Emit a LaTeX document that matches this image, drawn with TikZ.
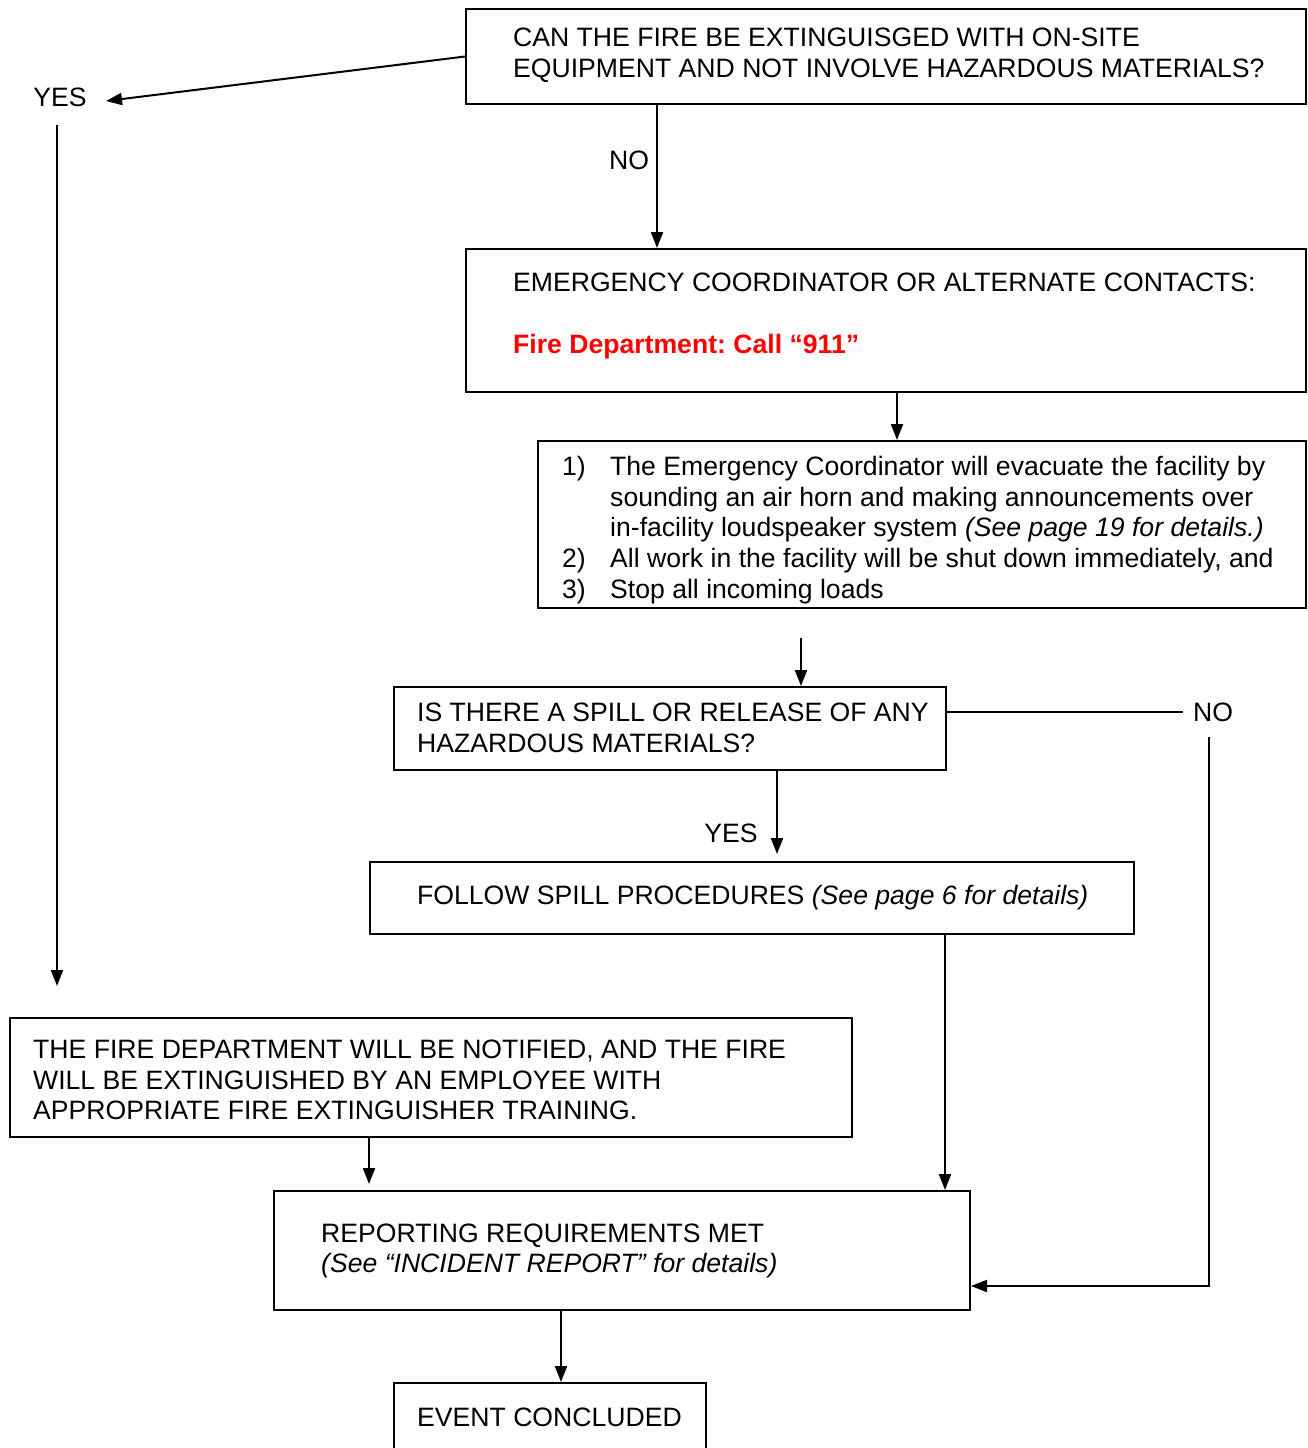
\documentclass[tikz,border=0pt]{standalone}
\usepackage{fontspec}
\setmainfont{Liberation Sans}
\usetikzlibrary{arrows.meta}
\frenchspacing
\begin{document}
\begin{tikzpicture}[x=1pt,y=-1pt,
  box/.style={draw, line width=2pt, anchor=north west, inner sep=0pt},
  txt/.style={font=\fontsize{26.6}{30.8}\selectfont, align=left, inner sep=0pt, anchor=west},
  lbl/.style={font=\fontsize{26.6}{30.8}\selectfont, inner sep=0pt},
  arr/.style={line width=2pt, -{Triangle[width=12pt,length=16pt]}},
  ln/.style={line width=2pt}]
\path[use as bounding box] (0,0) rectangle (1307,1448);

% boxes
\node[box, minimum width=840, minimum height=95] (q1) at (465,8) {};
\node[txt] (q1t) at (513,55) {CAN THE FIRE BE EXTINGUISGED WITH ON-SITE\\EQUIPMENT AND NOT INVOLVE HAZARDOUS MATERIALS?};

\node[box, minimum width=840, minimum height=143] (ec) at (465,248) {};
\node[txt] (ect) at (513,316) {EMERGENCY COORDINATOR OR ALTERNATE CONTACTS:\\[30.8pt]{\color{red}\bfseries Fire Department: Call “911”}};

\node[box, minimum width=768, minimum height=167] (ev) at (537,440) {};
\node[txt] (evt) at (562,530) {\makebox[48pt][l]{1)}The Emergency Coordinator will evacuate the facility by\\
\hspace*{48pt}sounding an air horn and making announcements over\\
\hspace*{48pt}in-facility loudspeaker system \textit{(See page 19 for details.)}\\
\makebox[48pt][l]{2)}All work in the facility will be shut down immediately, and\\
\makebox[48pt][l]{3)}Stop all incoming loads};

\node[box, minimum width=552, minimum height=83] (hz) at (393,686) {};
\node[txt] (hzt) at (417,728) {IS THERE A SPILL OR RELEASE OF ANY\\HAZARDOUS MATERIALS?};

\node[box, minimum width=764, minimum height=72] (fs) at (369,861) {};
\node[txt] (fst) at (417,898) {FOLLOW SPILL PROCEDURES \textit{(See page 6 for details)}};

\node[box, minimum width=842, minimum height=119] (fd) at (9,1017) {};
\node[txt] (fdt) at (33,1080) {THE FIRE DEPARTMENT WILL BE NOTIFIED, AND THE FIRE\\WILL BE EXTINGUISHED BY AN EMPLOYEE WITH\\APPROPRIATE FIRE EXTINGUISHER TRAINING.};

\node[box, minimum width=696, minimum height=119] (sr) at (273,1190) {};
\node[txt] (srt) at (321,1251) {REPORTING REQUIREMENTS MET\\\textit{(See “INCIDENT REPORT” for details)}};

\node[box, minimum width=312, minimum height=72] (ek) at (393,1382) {};
\node[txt] (ekt) at (417,1417) {EVENT CONCLUDED};

% labels
\node[lbl] (yes1) at (60,97) {YES};
\node[lbl] (no1) at (629,160) {NO};
\node[lbl] (no2) at (1213,712) {NO};
\node[lbl] (yes2) at (731,833) {YES};

% guide coordinates
\coordinate (yesTip) at (106,101);
\coordinate (yesTop) at (57,125);
\coordinate (yesEnd) at (57,986);
\coordinate (g657) at (657,0);
\coordinate (g897) at (897,0);
\coordinate (s801) at (801,638);
\coordinate (nob) at (1209,737);
\coordinate (noc) at (1209,1286);
\coordinate (g777) at (777,854);
\coordinate (g945) at (945,0);
\coordinate (g369) at (369,1184);
\coordinate (g561) at (561,0);

% connectors
\draw[arr] (q1.west) -- (yesTip);
\draw[arr] (yesTop) -- (yesEnd);
\draw[arr] (q1.south -| g657) -- (ec.north -| g657);
\draw[arr] (ec.south -| g897) -- (ev.north -| g897);
\draw[arr] (s801) -- (hz.north -| s801);
\draw[ln] (hz.east |- no2) -- ([xshift=-10pt]no2.west);
\draw[arr] (nob) -- (noc) -- (sr.east |- noc);
\draw[arr] (hz.south -| g777) -- (g777);
\draw[arr] (fs.south -| g945) -- (sr.north -| g945);
\draw[arr] (fd.south -| g369) -- (g369);
\draw[arr] (sr.south -| g561) -- (ek.north -| g561);
\end{tikzpicture}
\end{document}
